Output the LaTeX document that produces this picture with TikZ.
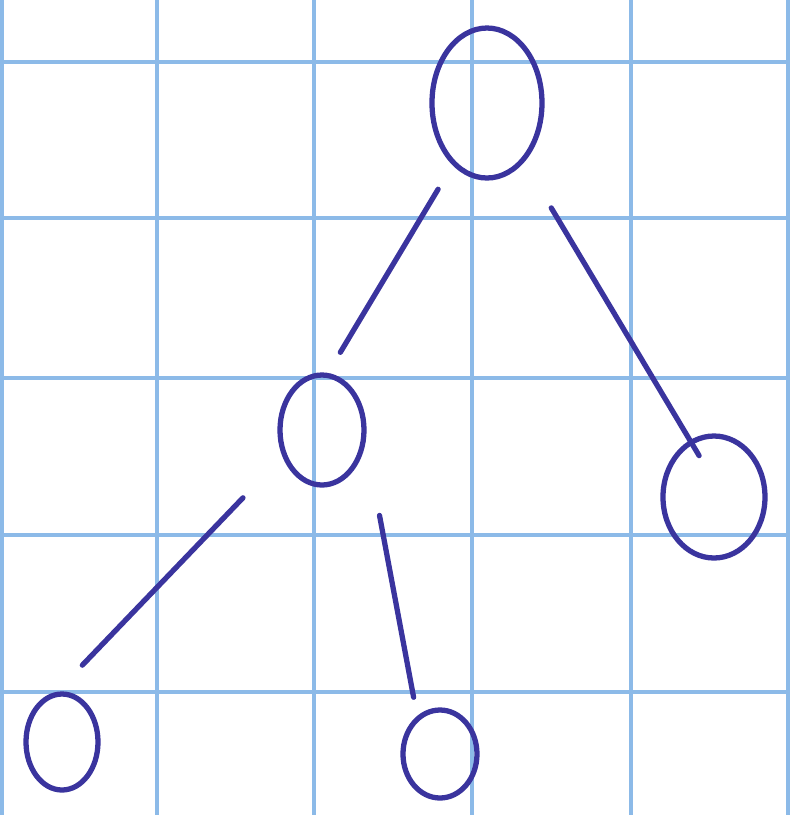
\documentclass[tikz,border=0pt]{standalone}
\usetikzlibrary{shapes.geometric}
\definecolor{ink}{RGB}{58,52,158}
\definecolor{gridblue}{RGB}{140,186,232}
\begin{document}
\begin{tikzpicture}[x=0.1mm, y=-0.1mm]
      \tikzset{tree node/.style={ellipse,draw=ink,line width=1.5pt,inner sep=0pt},
               branch/.style={draw=ink,line width=1.5pt,line cap=round}}
      \useasboundingbox (0,0) rectangle (790,815);
      \fill[white] (0,0) rectangle (790,815);

      % Grid paper
      \foreach \gx in {2, 157, 314, 472, 631, 788}
        \draw[gridblue, line width=0.9pt] (\gx,0) -- (\gx,815);
      \foreach \gy in {62, 218, 378, 535, 692}
        \draw[gridblue, line width=0.9pt] (0,\gy) -- (790,\gy);

      % Nodes
      \node[tree node, minimum width=11mm, minimum height=15mm] (root) at (487,103) {};
      \node[tree node, minimum width=8.4mm, minimum height=11mm] (left) at (322,430) {};
      \node[tree node, minimum width=10.2mm, minimum height=12.2mm] (right) at (714,497) {};
      \node[tree node, minimum width=7.2mm, minimum height=9.6mm] (leftleft) at (62,742) {};
      \node[tree node, minimum width=7.4mm, minimum height=8.8mm] (leftright) at (440,754) {};

      % Branches (gaps left at both ends, as drawn by hand)
      \draw[branch, shorten <=2.8mm, shorten >=2.4mm] (root.241) -- (left.84);
      \draw[branch, shorten <=5.3mm, shorten >=-1.8mm] (root.302) -- (right.113);
      \draw[branch, shorten <=5.7mm, shorten >=3.7mm] (left.214) -- (leftleft.96);
      \draw[branch, shorten <=7.5mm, shorten >=1.9mm] (left.345) -- (leftright.121);

    \end{tikzpicture}
\end{document}
